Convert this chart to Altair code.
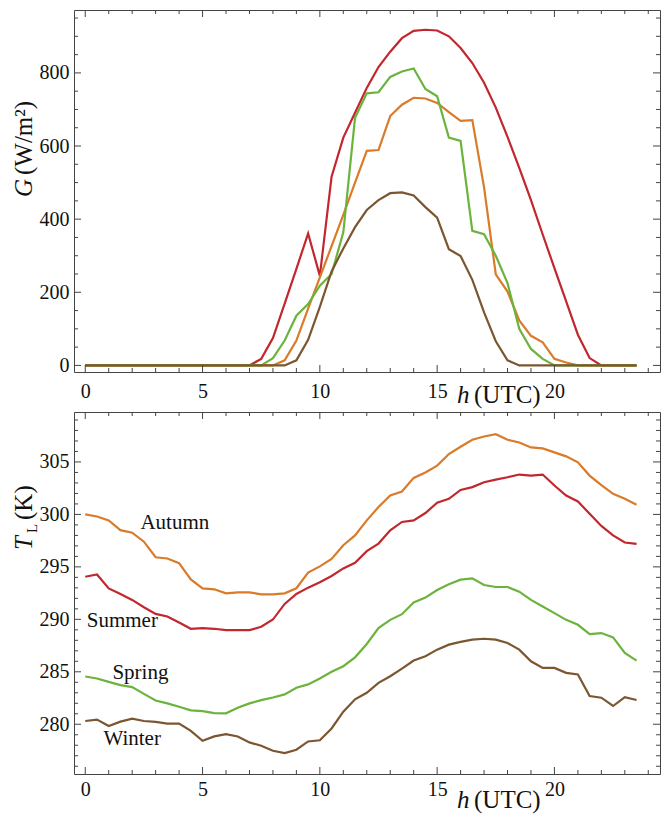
import altair as alt
import pandas as pd

# ---------------- data ----------------
hours = [0, 0.5, 1, 1.5, 2, 2.5, 3, 3.5, 4, 4.5, 5, 5.5, 6, 6.5, 7, 7.5,
         8, 8.5, 9, 9.5, 10, 10.5, 11, 11.5, 12, 12.5, 13, 13.5, 14, 14.5, 15, 15.5,
         16, 16.5, 17, 17.5, 18, 18.5, 19, 19.5, 20, 20.5, 21, 21.5, 22, 22.5, 23, 23.5]

seasons = ["Summer", "Autumn", "Spring", "Winter"]
season_colors = ["#C1272D", "#D97B29", "#6CB33E", "#7B5630"]

G_summer = [0, 0, 0, 0, 0, 0, 0, 0, 0, 0, 0, 0, 0, 0,
            0, 18, 75, 169, 264, 361, 245, 516, 623, 691, 759, 816, 858, 895, 915, 918,
            916, 900, 868, 827, 773, 705, 625, 540, 452, 358, 266, 175, 84, 20, 0, 0, 0, 0]
G_autumn = [0, 0, 0, 0, 0, 0, 0, 0, 0, 0, 0, 0, 0, 0, 0, 0,
            0, 14, 68, 155, 241, 326, 412, 500, 587, 589, 682, 713, 732, 730, 718, 693,
            669, 671, 487, 249, 202, 123, 81, 63, 18, 8, 0, 0, 0, 0, 0, 0]
G_spring = [0, 0, 0, 0, 0, 0, 0, 0, 0, 0, 0, 0, 0, 0, 0, 0,
            20, 68, 136, 168, 218, 250, 364, 677, 744, 747, 789, 804, 812, 756, 736, 623,
            614, 368, 359, 300, 225, 100, 45, 18, 0, 0, 0, 0, 0, 0, 0, 0]
G_winter = [0, 0, 0, 0, 0, 0, 0, 0, 0, 0, 0, 0, 0, 0, 0, 0,
            0, 0, 14, 70, 160, 257, 320, 378, 425, 452, 471, 473, 465, 433, 404, 318,
            299, 234, 145, 66, 14, 0, 0, 0, 0, 0, 0, 0, 0, 0, 0, 0]

T_autumn = [300.0, 299.8, 299.43, 298.5, 298.26, 297.4, 295.92, 295.8, 295.35, 293.8,
            292.95, 292.86, 292.48, 292.57, 292.57, 292.38, 292.38,
            292.48, 292.96, 294.45, 295.05, 295.75, 297.06, 298.0, 299.43, 300.7, 301.8,
            302.18, 303.48, 304.0, 304.65, 305.75, 306.45,
            307.11, 307.43, 307.65, 307.11, 306.86, 306.38, 306.29, 305.91, 305.53, 304.96,
            303.7, 302.8, 301.96, 301.49, 300.92]
T_summer = [294.06, 294.28, 292.95, 292.42, 291.85, 291.15, 290.52, 290.27, 289.7, 289.1,
            289.16, 289.1, 288.97, 288.97, 288.97, 289.29, 289.98,
            291.47, 292.42, 293.02, 293.53, 294.13, 294.85, 295.39, 296.5, 297.22, 298.49,
            299.28, 299.43, 300.13, 301.11, 301.49, 302.33,
            302.6, 303.07, 303.32, 303.54, 303.8, 303.7, 303.8, 302.75, 301.8, 301.23,
            300.07, 298.9, 298.0, 297.32, 297.19]
T_spring = [284.55, 284.36, 284.04, 283.73, 283.54, 282.9, 282.27, 281.99, 281.67, 281.32,
            281.26, 281.07, 281.04, 281.58, 281.99, 282.3, 282.55,
            282.85, 283.48, 283.8, 284.36, 285.0, 285.53, 286.38, 287.65, 289.16, 289.95,
            290.49, 291.6, 292.07, 292.8, 293.34, 293.78,
            293.9, 293.27, 293.08, 293.08, 292.64, 291.85, 291.22, 290.59, 289.95, 289.48,
            288.6, 288.69, 288.28, 286.8, 286.07]
T_winter = [280.31, 280.44, 279.84, 280.25, 280.53, 280.31, 280.22, 280.06, 280.06, 279.37,
            278.43, 278.84, 279.06, 278.84, 278.27, 277.95, 277.48,
            277.26, 277.57, 278.36, 278.47, 279.6, 281.2, 282.38, 283.0, 283.95, 284.58,
            285.31, 286.07, 286.48, 287.11, 287.59, 287.85,
            288.06, 288.15, 288.06, 287.74, 287.11, 286.0, 285.37, 285.37, 284.9, 284.74,
            282.69, 282.53, 281.74, 282.59, 282.31]

label_names = ["Autumn", "Summer", "Spring", "Winter"]
label_h = [3.82, 1.58, 2.35, 2.0]
label_T = [299.2, 289.83, 284.9, 278.55]

x_major = [0, 5, 10, 15, 20]
x_minor = [1, 2, 3, 4, 6, 7, 8, 9, 11, 12, 13, 14, 16, 17, 18, 19, 21, 22, 23, 24]
g_major = [0, 200, 400, 600, 800]
g_minor = [50, 100, 150, 250, 300, 350, 450, 500, 550, 650, 700, 750, 850, 900, 950]
t_major = [280, 285, 290, 295, 300, 305]
t_minor = [276, 277, 278, 279, 281, 282, 283, 284, 286, 287, 288, 289, 291, 292, 293, 294,
           296, 297, 298, 299, 301, 302, 303, 304, 306, 307, 308, 309]

# ---------------- styling ----------------
FONT = "Liberation Serif"
W, H1, H2 = 586, 362, 362
MAJ, MIN = 7, 4
FRAME = "#444444"
TXT = "#111111"
xscale = alt.Scale(domain=[-0.48, 24.5], nice=False, zero=False)
gscale = alt.Scale(domain=[-18, 972], nice=False, zero=False)
tscale = alt.Scale(domain=[275.26, 309.76], nice=False, zero=False)
cscale = alt.Scale(domain=seasons, range=season_colors)


def long_df(series, field):
    rows = []
    for s, vals in zip(seasons, series):
        for h, v in zip(hours, vals):
            rows.append({"h": h, field: v, "season": s})
    return pd.DataFrame(rows)


def xaxis(pad):
    return alt.Axis(values=x_major, ticks=False, tickSize=0, domain=False, grid=False,
                    labelFont=FONT, labelFontSize=20, labelColor=TXT,
                    labelPadding=pad, title=None, labelFlush=False)


def yaxis(vals):
    return alt.Axis(values=vals, ticks=False, tickSize=0, domain=False, grid=False,
                    labelFont=FONT, labelFontSize=20, labelColor=TXT,
                    labelPadding=5, title=None)


def tick_layers(yscale, H, y_maj, y_min, xpad):
    layers = []
    for vals, L in ((x_major, MAJ), (x_minor, MIN)):
        d = pd.DataFrame({"v": vals})
        for y0, y1 in ((H, H - L), (0, L)):
            layers.append(alt.Chart(d).mark_rule(color=FRAME, strokeWidth=1).encode(
                x=alt.X("v:Q", scale=xscale, axis=xaxis(xpad), title=None),
                y=alt.value(y0), y2=alt.value(y1)))
    for vals, L in ((y_maj, MAJ), (y_min, MIN)):
        d = pd.DataFrame({"v": vals})
        for x0, x1 in ((0, L), (W, W - L)):
            layers.append(alt.Chart(d).mark_rule(color=FRAME, strokeWidth=1).encode(
                y=alt.Y("v:Q", scale=yscale, axis=yaxis(y_maj), title=None),
                x=alt.value(x0), x2=alt.value(x1)))
    return layers


def txt(s, x, y, size=25, italic=False, angle=0):
    kw = dict(font=FONT, fontSize=size, color=TXT, align="left",
              baseline="alphabetic")
    if italic:
        kw["fontStyle"] = "italic"
    if angle:
        kw["angle"] = angle
    return alt.Chart(pd.DataFrame({"t": [s]})).mark_text(**kw).encode(
        x=alt.value(x), y=alt.value(y), text="t:N")


# ---------------- top panel ----------------
gdf = long_df([G_summer, G_autumn, G_spring, G_winter], "G")
g_lines = alt.Chart(gdf).mark_line(strokeWidth=2.2).encode(
    x=alt.X("h:Q", scale=xscale, axis=xaxis(9), title=None),
    y=alt.Y("G:Q", scale=gscale, axis=yaxis(g_major), title=None),
    color=alt.Color("season:N", scale=cscale, legend=None),
    detail="season:N",
)
top = alt.layer(
    g_lines,
    *tick_layers(gscale, H1, g_major, g_minor, 9),
    txt("G", -42, 187, italic=True, angle=270),
    txt("(W/m²)", -42, 165, angle=270),
    txt("h", 383, H1 + 31, italic=True),
    txt("(UTC)", 400, H1 + 31),
).properties(width=W, height=H1)

# ---------------- bottom panel ----------------
tdf = long_df([T_summer, T_autumn, T_spring, T_winter], "T")
t_lines = alt.Chart(tdf).mark_line(strokeWidth=2.2).encode(
    x=alt.X("h:Q", scale=xscale, axis=xaxis(5), title=None),
    y=alt.Y("T:Q", scale=tscale, axis=yaxis(t_major), title=None),
    color=alt.Color("season:N", scale=cscale, legend=None),
    detail="season:N",
)
labels = alt.Chart(pd.DataFrame({"name": label_names, "h": label_h, "T": label_T})).mark_text(
    font=FONT, fontSize=21, color=TXT, align="center", baseline="middle"
).encode(
    x=alt.X("h:Q", scale=xscale, axis=xaxis(5), title=None),
    y=alt.Y("T:Q", scale=tscale, axis=yaxis(t_major), title=None),
    text="name:N",
)
bottom = alt.layer(
    t_lines,
    labels,
    *tick_layers(tscale, H2, t_major, t_minor, 5),
    txt("T", -42, 138, italic=True, angle=270),
    txt("L", -37, 121, size=15, angle=270),
    txt("(K)", -42, 108, angle=270),
    txt("h", 383, H2 + 34, italic=True),
    txt("(UTC)", 400, H2 + 34),
).properties(width=W, height=H2)

chart = alt.vconcat(top, bottom, spacing=40, bounds="flush").properties(
    padding={"left": 3, "top": 1, "right": 0, "bottom": 0}
).configure_view(stroke=FRAME, strokeWidth=1).configure_axis(
    labelFont=FONT, labelFontSize=20, labelColor=TXT
)

chart.save("out.html", embed_options={"renderer": "svg", "actions": False})
